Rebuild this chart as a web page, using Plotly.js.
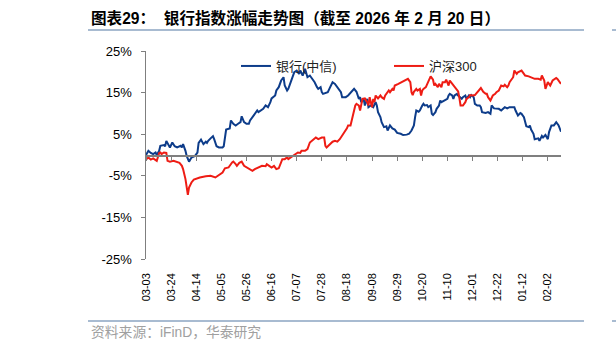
<!DOCTYPE html>
<html>
<head>
<meta charset="utf-8">
<script src="https://cdn.plot.ly/plotly-3.0.1.min.js"></script>
<style>
html,body{margin:0;padding:0;background:#fff;}
#chart{width:616px;height:351px;}
</style>
</head>
<body>
<div id="chart"></div>
<script>
// ---- data (cumulative change, %) ----
const seriesNames = ['银行(中信)', '沪深300'];

const bankDates = [
'2025-03-03','2025-03-05','2025-03-07','2025-03-09','2025-03-11','2025-03-12','2025-03-14','2025-03-15','2025-03-18','2025-03-19','2025-03-20','2025-03-22','2025-03-23','2025-03-25','2025-03-27','2025-03-29',
'2025-04-01','2025-04-02','2025-04-03','2025-04-05','2025-04-06','2025-04-08','2025-04-09','2025-04-10','2025-04-13','2025-04-15','2025-04-16','2025-04-18','2025-04-20','2025-04-22','2025-04-23','2025-04-24','2025-04-26','2025-04-28','2025-04-29',
'2025-05-01','2025-05-03','2025-05-06','2025-05-07','2025-05-09','2025-05-12','2025-05-13','2025-05-15','2025-05-17','2025-05-19','2025-05-21','2025-05-22','2025-05-24','2025-05-26','2025-05-28','2025-05-29','2025-05-31',
'2025-06-02','2025-06-04','2025-06-05','2025-06-07','2025-06-09','2025-06-11','2025-06-13','2025-06-15','2025-06-16','2025-06-19','2025-06-20','2025-06-22','2025-06-24','2025-06-26','2025-06-27','2025-06-29','2025-06-30',
'2025-07-02','2025-07-04','2025-07-05','2025-07-07','2025-07-09','2025-07-10','2025-07-12','2025-07-14','2025-07-15','2025-07-16','2025-07-18','2025-07-20','2025-07-21','2025-07-22','2025-07-24','2025-07-25','2025-07-27','2025-07-28','2025-07-29','2025-07-31',
'2025-08-02','2025-08-04','2025-08-06','2025-08-08','2025-08-10','2025-08-12','2025-08-13','2025-08-14','2025-08-17','2025-08-19','2025-08-22','2025-08-24','2025-08-26','2025-08-28','2025-08-29','2025-08-30',
'2025-09-01','2025-09-02','2025-09-04','2025-09-05','2025-09-07','2025-09-09','2025-09-11','2025-09-12','2025-09-13','2025-09-15','2025-09-16','2025-09-18','2025-09-20','2025-09-21','2025-09-23','2025-09-25','2025-09-27','2025-09-29',
'2025-10-02','2025-10-04','2025-10-07','2025-10-09','2025-10-11','2025-10-13','2025-10-14','2025-10-15','2025-10-17','2025-10-18','2025-10-20','2025-10-21','2025-10-22','2025-10-24','2025-10-25','2025-10-27','2025-10-28','2025-10-29','2025-10-31',
'2025-11-01','2025-11-03','2025-11-04','2025-11-05','2025-11-07','2025-11-10','2025-11-11','2025-11-12','2025-11-14','2025-11-15','2025-11-16','2025-11-18','2025-11-19','2025-11-21','2025-11-22','2025-11-23','2025-11-25','2025-11-26','2025-11-28','2025-11-29','2025-11-30',
'2025-12-02','2025-12-03','2025-12-05','2025-12-07','2025-12-08','2025-12-09','2025-12-12','2025-12-14','2025-12-16','2025-12-17','2025-12-19','2025-12-21','2025-12-23','2025-12-25','2025-12-27','2025-12-28','2025-12-30',
'2026-01-01','2026-01-03','2026-01-05','2026-01-06','2026-01-07','2026-01-08','2026-01-10','2026-01-11','2026-01-13','2026-01-14','2026-01-15','2026-01-17','2026-01-18','2026-01-19','2026-01-21','2026-01-22','2026-01-25','2026-01-26','2026-01-28','2026-01-29','2026-01-31',
'2026-02-02','2026-02-03','2026-02-05','2026-02-07','2026-02-08','2026-02-09','2026-02-11','2026-02-13'
];
const bankValues = [
0.0,1.0,0.5,0.2,0.6,0.0,1.0,2.2,2.4,2.1,3.4,2.2,1.8,3.0,2.1,1.8,
2.2,1.8,2.6,1.0,-0.2,-1.6,-1.0,-0.6,-0.2,0.6,2.9,3.7,2.6,3.2,2.9,3.4,4.0,4.5,3.8,
2.1,1.8,1.8,2.1,6.1,6.4,8.3,7.5,7.1,7.5,7.9,9.3,7.9,7.5,7.5,8.3,9.1,
9.9,10.7,10.3,10.7,11.1,11.9,11.5,12.7,13.6,14.3,15.5,16.3,17.9,18.7,16.7,15.5,15.9,
17.5,19.1,19.9,20.3,19.5,20.3,19.1,20.7,19.5,18.7,19.1,18.3,17.9,17.5,16.3,15.9,16.3,15.1,14.7,14.9,
15.1,16.3,17.5,17.1,16.3,15.5,15.1,13.9,13.9,14.3,15.2,15.9,15.2,13.5,13.9,12.7,
13.5,11.9,13.5,11.5,11.9,11.5,12.7,11.9,10.3,9.1,7.9,6.7,6.9,5.9,7.1,6.4,6.1,5.3,
5.1,4.8,4.9,5.1,5.9,7.1,9.1,10.7,10.4,10.7,11.9,12.3,11.9,12.0,11.5,11.9,9.9,9.6,10.3,
11.1,11.9,13.1,12.7,13.1,13.5,14.3,14.7,14.3,13.5,14.3,14.7,14.3,13.9,13.5,13.9,14.3,13.5,14.3,13.9,14.4,
13.9,12.3,11.9,11.9,11.5,10.3,10.1,10.3,9.9,11.9,11.2,11.1,11.1,10.7,11.2,11.5,11.2,
11.5,11.5,11.5,10.7,9.9,9.5,10.1,9.9,9.1,7.9,6.9,6.7,7.1,6.1,5.1,3.8,4.0,3.4,4.6,4.2,4.8,
3.8,5.5,7.1,7.1,7.5,7.9,7.1,5.6
];

const hs300Dates = [
'2025-03-03','2025-03-05','2025-03-07','2025-03-09','2025-03-12','2025-03-14','2025-03-15','2025-03-16','2025-03-18','2025-03-20','2025-03-21','2025-03-23','2025-03-26','2025-03-29','2025-03-31',
'2025-04-02','2025-04-03','2025-04-05','2025-04-06','2025-04-07','2025-04-08','2025-04-10','2025-04-12','2025-04-15','2025-04-17','2025-04-22','2025-04-26','2025-04-30',
'2025-05-03','2025-05-06','2025-05-08','2025-05-11','2025-05-14','2025-05-15','2025-05-17','2025-05-18','2025-05-20','2025-05-22','2025-05-24','2025-05-26','2025-05-28','2025-05-31',
'2025-06-02','2025-06-05','2025-06-08','2025-06-11','2025-06-12','2025-06-14','2025-06-16','2025-06-18','2025-06-20','2025-06-22','2025-06-23','2025-06-25','2025-06-27','2025-06-29','2025-06-30',
'2025-07-02','2025-07-04','2025-07-06','2025-07-08','2025-07-10','2025-07-11','2025-07-14','2025-07-16','2025-07-18','2025-07-20','2025-07-21','2025-07-23','2025-07-25','2025-07-28','2025-07-30','2025-07-31',
'2025-08-01','2025-08-04','2025-08-06','2025-08-08','2025-08-10','2025-08-12','2025-08-14','2025-08-17','2025-08-18','2025-08-19','2025-08-21','2025-08-22','2025-08-23','2025-08-24','2025-08-25','2025-08-26','2025-08-28','2025-08-29','2025-08-30','2025-08-31',
'2025-09-02','2025-09-04','2025-09-05','2025-09-06','2025-09-08','2025-09-09','2025-09-10','2025-09-11','2025-09-13','2025-09-15','2025-09-16','2025-09-18','2025-09-19','2025-09-20','2025-09-22','2025-09-23','2025-09-25','2025-09-26','2025-09-27','2025-09-30',
'2025-10-03','2025-10-06','2025-10-08','2025-10-10','2025-10-11','2025-10-12','2025-10-13','2025-10-15','2025-10-16','2025-10-18','2025-10-19','2025-10-20','2025-10-21','2025-10-23','2025-10-25','2025-10-26','2025-10-27','2025-10-29','2025-10-30','2025-10-31',
'2025-11-02','2025-11-03','2025-11-05','2025-11-06','2025-11-08','2025-11-09','2025-11-11','2025-11-12','2025-11-14','2025-11-15','2025-11-17','2025-11-19','2025-11-20','2025-11-21','2025-11-23','2025-11-25','2025-11-26','2025-11-28','2025-11-29',
'2025-12-01','2025-12-03','2025-12-05','2025-12-07','2025-12-08','2025-12-10','2025-12-12','2025-12-13','2025-12-14','2025-12-16','2025-12-17','2025-12-18','2025-12-20','2025-12-21','2025-12-23','2025-12-24','2025-12-25','2025-12-27','2025-12-28','2025-12-30','2025-12-31',
'2026-01-01','2026-01-03','2026-01-04','2026-01-05','2026-01-07','2026-01-08','2026-01-10','2026-01-11','2026-01-13','2026-01-14','2026-01-17','2026-01-19','2026-01-22','2026-01-25','2026-01-27','2026-01-28','2026-01-30','2026-01-31',
'2026-02-02','2026-02-03','2026-02-04','2026-02-06','2026-02-07','2026-02-09','2026-02-10','2026-02-11','2026-02-13'
];
const hs300Values = [
-1.1,-0.6,-1.1,-0.8,-1.4,0.5,0.6,0.2,0.6,0.5,-1.4,-1.6,-1.4,-1.8,-1.9,
-2.6,-3.4,-5.8,-7.8,-9.6,-7.8,-6.6,-5.9,-5.6,-5.4,-5.1,-5.0,-5.4,
-4.8,-4.2,-3.2,-3.0,-1.8,-1.6,-2.2,-2.6,-1.9,-1.6,-2.6,-3.0,-3.4,-3.8,
-3.4,-3.0,-2.6,-2.7,-2.2,-2.6,-3.0,-2.6,-3.4,-3.2,-2.6,-1.0,-1.0,-0.6,-1.0,
-0.6,-0.2,0.2,0.6,0.5,1.0,1.0,1.4,3.0,3.4,3.8,4.2,3.8,4.2,4.2,2.2,
1.8,2.6,3.2,3.4,3.2,3.8,4.6,5.9,6.4,7.1,7.1,8.3,9.5,10.3,11.9,12.3,11.9,10.7,12.7,13.5,
13.6,12.7,11.9,13.9,11.5,13.5,12.7,14.3,13.6,14.3,13.9,13.5,14.3,14.7,15.5,15.1,15.9,15.5,16.7,17.1,
17.5,17.9,18.3,17.5,15.1,14.4,15.2,15.9,15.5,15.9,14.3,15.5,15.9,16.3,17.5,18.3,18.9,18.1,16.7,17.1,
16.3,17.1,16.3,17.5,17.5,18.1,16.7,17.9,17.1,16.7,16.0,15.3,13.8,11.9,11.9,12.7,13.5,13.9,14.4,
14.3,14.4,15.1,15.9,16.1,15.2,14.7,14.7,13.9,13.1,13.9,14.3,14.7,15.1,15.5,16.3,16.7,16.5,16.9,16.3,16.7,
17.5,18.3,18.7,20.3,19.5,19.9,20.1,20.3,19.5,19.1,18.9,18.7,18.3,18.3,18.1,19.1,17.9,15.9,
17.5,17.1,16.7,17.9,18.1,18.5,18.3,17.9,17.1
];

const yTicks = [-25, -15, -5, 5, 15, 25];
const yTickText = ['-25%', '-15%', '-5%', '5%', '15%', '25%'];
const xStart = '2025-03-03';
const xEnd = '2026-02-13';

const titleText = '图表29：  银行指数涨幅走势图（截至 2026 年 2 月 20 日）';
const sourceText = '资料来源：iFinD，华泰研究';

// ---- layout helpers (pixel -> paper) ----
const W = 616, H = 351;
const M = {l: 146, r: 55, t: 51, b: 92};
const PW = W - M.l - M.r, PH = H - M.t - M.b;
const px = v => (v - M.l) / PW;
const py = v => (H - M.b - v) / PH;

const axisGray = '#7f7f7f';
const ruleColor = '#a8bbd1';
const numFont = 'Liberation Sans, Arial, sans-serif';
const cjkFont = 'Liberation Sans, Arial, Noto Sans CJK SC, sans-serif';

const traces = [
  {
    x: bankDates, y: bankValues, name: seriesNames[0], type: 'scatter', mode: 'lines',
    line: {color: '#0d3c8a', width: 2}, xaxis: 'x', yaxis: 'y'
  },
  {
    x: hs300Dates, y: hs300Values, name: seriesNames[1], type: 'scatter', mode: 'lines',
    line: {color: '#ee1c14', width: 2}, xaxis: 'x2', yaxis: 'y'
  }
];

const layout = {
  width: W, height: H,
  margin: M,
  paper_bgcolor: '#ffffff', plot_bgcolor: '#ffffff',
  showlegend: true,
  legend: {
    orientation: 'h', x: px(236), xanchor: 'left', y: py(66), yanchor: 'middle',
    font: {family: cjkFont, size: 13, color: '#222222'},
    bgcolor: 'rgba(0,0,0,0)', entrywidth: 108, entrywidthmode: 'pixels',
    traceorder: 'normal'
  },
  xaxis: {
    type: 'date', range: [xStart, xEnd],
    anchor: 'free', position: 0.5,
    showline: true, linecolor: axisGray, linewidth: 1.5,
    ticks: 'outside', ticklen: 4, tickwidth: 1, tickcolor: axisGray,
    tick0: xStart, dtick: 21 * 86400000,
    showticklabels: false, showgrid: false, zeroline: false
  },
  xaxis2: {
    type: 'date', overlaying: 'x', matches: 'x', anchor: 'y', side: 'bottom',
    range: [xStart, xEnd],
    showline: false, ticks: '', showgrid: false, zeroline: false,
    tick0: xStart, dtick: 21 * 86400000, tickformat: '%m-%d', tickangle: -90,
    tickfont: {family: numFont, size: 11, color: '#000000'},
    ticklabelstandoff: 11
  },
  yaxis: {
    range: [-25, 25], tickvals: yTicks, ticktext: yTickText,
    showline: true, linecolor: axisGray, linewidth: 1.5,
    ticks: 'outside', ticklen: 4, tickwidth: 1, tickcolor: axisGray,
    showgrid: false, zeroline: false, ticklabelstandoff: 6,
    tickfont: {family: numFont, size: 13, color: '#000000'}
  },
  shapes: [
    {type: 'line', xref: 'paper', yref: 'paper', x0: px(88), x1: px(584), y0: py(30), y1: py(30), line: {color: ruleColor, width: 2}},
    {type: 'line', xref: 'paper', yref: 'paper', x0: px(88), x1: px(584), y0: py(321), y1: py(321), line: {color: ruleColor, width: 2}},
    {type: 'line', xref: 'paper', yref: 'paper', x0: px(612), x1: px(640), y0: py(30), y1: py(30), line: {color: ruleColor, width: 2}},
    {type: 'line', xref: 'paper', yref: 'paper', x0: px(612), x1: px(640), y0: py(321), y1: py(321), line: {color: ruleColor, width: 2}}
  ],
  annotations: [
    {text: '<b>' + titleText + '</b>', xref: 'paper', yref: 'paper', x: px(89), y: py(18),
     xanchor: 'left', yanchor: 'middle', showarrow: false,
     font: {family: 'Liberation Sans, Arial, Noto Sans CJK SC, sans-serif', size: 15.6, color: '#000000'}},
    {text: sourceText, xref: 'paper', yref: 'paper', x: px(89), y: py(332),
     xanchor: 'left', yanchor: 'middle', showarrow: false,
     font: {family: cjkFont, size: 13.8, color: '#a0a0a0'}}
  ]
};

Plotly.newPlot('chart', traces, layout, {displayModeBar: false, staticPlot: true});
</script>
</body>
</html>
